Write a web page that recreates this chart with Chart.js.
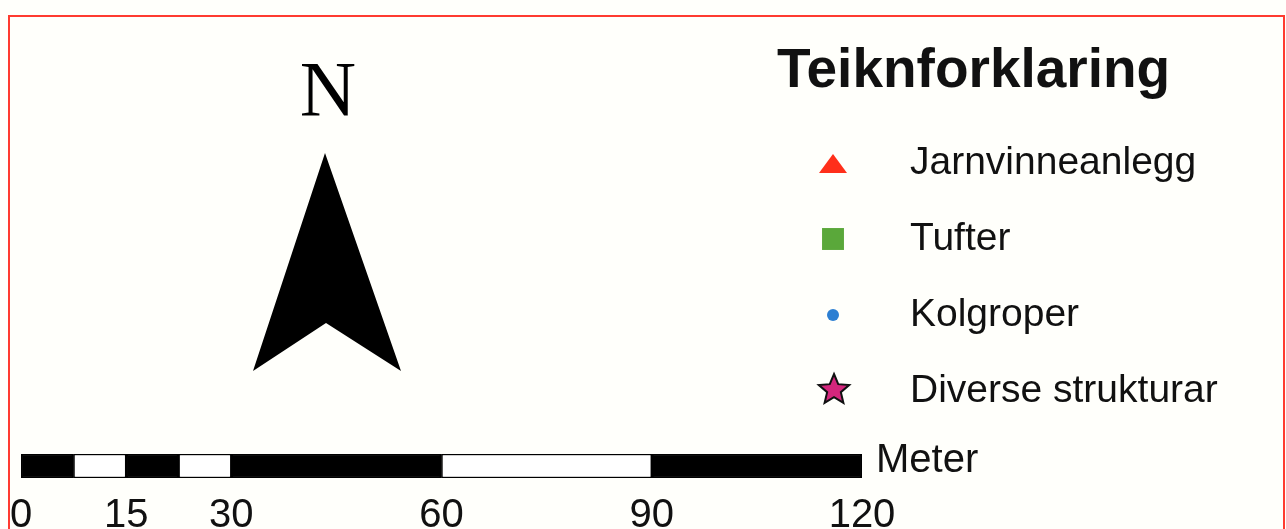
<!DOCTYPE html>
<html>
<head>
<meta charset="utf-8">
<script src="https://cdn.jsdelivr.net/npm/chart.js@4.4.1/dist/chart.umd.min.js"></script>
<style>
  body { margin: 0; background: #fffffb; }
</style>
</head>
<body>
<canvas id="myChart" width="1286" height="529"></canvas>
<script>
// scale bar segments, in meters
const segmentStarts = [0, 7.5, 15, 22.5, 30, 60, 90];
const segmentEnds = [7.5, 15, 22.5, 30, 60, 90, 120];
const segmentFill = ['#000', '#fff', '#000', '#fff', '#000', '#fff', '#000'];
const tickValues = [0, 15, 30, 60, 90, 120];
const unitLabel = 'Meter';

// legend
const legendTitle = 'Teiknforklaring';
const legendLabels = ['Jarnvinneanlegg', 'Tufter', 'Kolgroper', 'Diverse strukturar'];
const legendColors = ['#ff2f1a', '#5aa83a', '#2d7fd2', '#d4267c'];
const legendStyles = ['triangle', 'rect', 'circle', 'star'];
const legendSizes = [14, 15.5, 6, 16];

const sans = '"Liberation Sans", Arial, sans-serif';

function drawStar(ctx, cx, cy, r, fill) {
  ctx.beginPath();
  for (let i = 0; i < 10; i++) {
    var rad = i % 2 === 0 ? r : r * 0.45;
    var a = -Math.PI / 2 + i * Math.PI / 5;
    ctx.lineTo(cx + rad * Math.cos(a), cy + rad * Math.sin(a));
  }
  ctx.closePath();
  ctx.fillStyle = fill;
  ctx.fill();
  ctx.lineWidth = 2;
  ctx.strokeStyle = '#111';
  ctx.stroke();
}

// flat triangle like the map symbol
function drawTriangle(ctx, cx, cy, half, fill) {
  ctx.beginPath();
  ctx.moveTo(cx, cy - 10);
  ctx.lineTo(cx + half, cy + 9);
  ctx.lineTo(cx - half, cy + 9);
  ctx.closePath();
  ctx.fillStyle = fill;
  ctx.fill();
}

const mapDecor = {
  id: 'mapDecor',
  beforeDraw(chart) {
    const ctx = chart.ctx;
    ctx.save();
    ctx.fillStyle = '#fffffb';
    ctx.fillRect(0, 0, chart.width, chart.height);
    ctx.restore();
  },
  afterDraw(chart) {
    const ctx = chart.ctx;
    const area = chart.chartArea;
    const barMid = (area.top + area.bottom) / 2;
    ctx.save();

    // frame
    ctx.strokeStyle = '#ff3b30';
    ctx.lineWidth = 2;
    ctx.strokeRect(9, 16, 1275, 600);

    // north arrow
    ctx.fillStyle = '#000';
    ctx.beginPath();
    ctx.moveTo(325, 153);
    ctx.lineTo(401, 371);
    ctx.lineTo(326, 323);
    ctx.lineTo(253, 371);
    ctx.closePath();
    ctx.fill();
    ctx.font = '78px "Liberation Serif", "Times New Roman", serif';
    ctx.textAlign = 'center';
    ctx.textBaseline = 'alphabetic';
    ctx.fillText('N', 328, 115);

    // unit label of scale bar
    ctx.font = '40px ' + sans;
    ctx.textAlign = 'left';
    ctx.textBaseline = 'middle';
    ctx.fillStyle = '#111';
    ctx.fillText(unitLabel, area.right + 14, barMid - 5);

    // legend
    ctx.font = 'bold 55px ' + sans;
    ctx.textBaseline = 'alphabetic';
    ctx.fillText(legendTitle, 777, 87);
    ctx.font = '39px ' + sans;
    ctx.textBaseline = 'middle';
    for (let i = 0; i < legendLabels.length; i++) {
      var y = 163 + i * 76;
      if (legendStyles[i] === 'star') {
        drawStar(ctx, 834, y - 1, legendSizes[i], legendColors[i]);
      } else if (legendStyles[i] === 'triangle') {
        drawTriangle(ctx, 833, y + 1, legendSizes[i], legendColors[i]);
      } else {
        ctx.fillStyle = legendColors[i];
        ctx.strokeStyle = legendColors[i];
        Chart.helpers.drawPoint(ctx, {
          pointStyle: legendStyles[i], radius: legendSizes[i], rotation: 0, borderWidth: 0
        }, 833, y);
      }
      ctx.fillStyle = '#111';
      ctx.fillText(legendLabels[i], 910, y);
    }
    ctx.restore();
  }
};

const scaleData = segmentStarts.map((s, i) => ({ x: [s, segmentEnds[i]], y: 'scale' }));

var myChart = new Chart(document.getElementById('myChart'), {
  type: 'bar',
  data: {
    labels: ['scale'],
    datasets: [{
      data: scaleData,
      backgroundColor: segmentFill,
      borderColor: '#000',
      borderWidth: 1.5,
      borderSkipped: false,
      categoryPercentage: 1,
      barPercentage: 1
    }]
  },
  options: {
    indexAxis: 'y',
    responsive: false,
    animation: false,
    layout: { padding: { left: 21, right: 424, top: 454, bottom: 0 } },
    plugins: { legend: { display: false }, tooltip: { enabled: false } },
    scales: {
      x: {
        type: 'linear',
        min: 0,
        max: 120,
        grid: { display: false, drawTicks: false },
        border: { display: false },
        afterBuildTicks: (axis) => { axis.ticks = tickValues.map(v => ({ value: v })); },
        afterFit: (axis) => { axis.height = 51; },
        ticks: {
          autoSkip: false,
          maxRotation: 0,
          padding: 8,
          color: '#111',
          font: { family: sans, size: 40, lineHeight: 1.5 }
        }
      },
      y: { display: false }
    }
  },
  plugins: [mapDecor]
});
</script>
</body>
</html>
